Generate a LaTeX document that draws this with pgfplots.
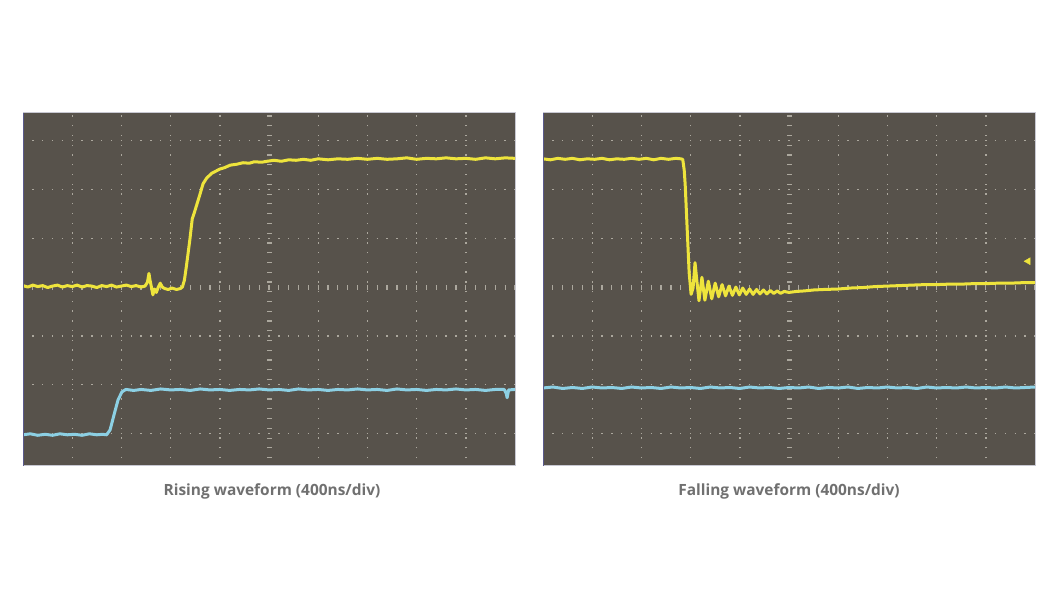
\documentclass[border=0pt]{standalone}
\usepackage{pgfplots}
\pgfplotsset{compat=1.18}
\usepackage{fontspec}
\setmainfont{Open Sans}
\definecolor{scopebg}{RGB}{87,82,75}
\definecolor{trY}{RGB}{238,228,60}
\definecolor{trC}{RGB}{140,208,228}
\definecolor{gridc}{RGB}{172,168,158}
\definecolor{capc}{RGB}{112,112,112}
\definecolor{edgeL}{RGB}{90,90,140}
\definecolor{edgeR}{RGB}{200,200,210}
\pgfplotsset{
  scope/.style={
    scale only axis, width=492bp, height=353bp,
    anchor=south west,
    xmin=-5, xmax=5, ymin=-3.67, ymax=3.57,
    axis background/.style={fill=scopebg},
    axis line style={draw=edgeR, line width=1bp},
    xtick={-4,-3,-2,-1,1,2,3,4}, ytick={-3,-2,-1,1,2,3},
    xticklabels={}, yticklabels={},
    major tick length=0pt,
    grid=major,
    major x grid style={draw=gridc, line width=1.4bp, dash pattern=on 1.4bp off 8.36bp, dash phase=2.0bp},
    major y grid style={draw=gridc, line width=1.4bp, dash pattern=on 1.4bp off 8.44bp, dash phase=0.7bp},
    extra x ticks={0}, extra y ticks={0},
    extra x tick style={grid=major, major x grid style={draw=gridc, line width=5bp, dash pattern=on 1.2bp off 8.56bp, dash phase=2.0bp}},
    extra y tick style={grid=major, major y grid style={draw=gridc, line width=5bp, dash pattern=on 1.2bp off 8.64bp, dash phase=0.6bp}},
    extra tick style={major tick length=0pt, xticklabels={}, yticklabels={}},
  },
  trace/.style={line width=3bp, line join=round, no marks},
}
\begin{document}
\begin{tikzpicture}
\useasboundingbox (0,0) rectangle (1063bp,604bp);
\fill[white] (0,0) rectangle (1063bp,604bp);

% ---------- Rising waveform ----------
\begin{axis}[scope, at={(23bp,138bp)}]
\addplot[trace, color=trY] coordinates {
(-5.00,0.03) (-4.90,0.00) (-4.80,0.04) (-4.70,0.01) (-4.60,0.03) (-4.50,-0.01) (-4.40,0.02)
(-4.30,0.04) (-4.20,0.00) (-4.10,0.03) (-4.00,0.01) (-3.90,0.04) (-3.80,0.00) (-3.70,0.03)
(-3.60,0.02) (-3.50,-0.01) (-3.40,0.03) (-3.30,0.01) (-3.20,0.04) (-3.10,0.00) (-3.00,0.02)
(-2.90,0.04) (-2.80,0.01) (-2.70,0.03) (-2.60,0.00) (-2.52,0.02) (-2.47,0.10) (-2.44,0.28)
(-2.42,0.15) (-2.39,0.00) (-2.36,-0.16) (-2.33,-0.04) (-2.29,-0.11) (-2.25,0.00) (-2.21,0.08)
(-2.17,0.00) (-2.12,-0.03) (-2.05,-0.05) (-1.97,-0.02) (-1.88,-0.05) (-1.80,-0.03) (-1.76,0.00)
(-1.72,0.14) (-1.68,0.42) (-1.61,0.96) (-1.56,1.40) (-1.52,1.52) (-1.48,1.65) (-1.41,1.88)
(-1.34,2.12) (-1.27,2.23) (-1.17,2.33) (-1.00,2.42) (-0.90,2.45) (-0.79,2.50) (-0.65,2.52)
(-0.53,2.55) (-0.40,2.54) (-0.30,2.57) (-0.15,2.56) (-0.04,2.58) (0.10,2.60) (0.25,2.58)
(0.40,2.61) (0.55,2.60) (0.70,2.62) (0.85,2.60) (1.00,2.63) (1.20,2.61) (1.40,2.63)
(1.60,2.62) (1.80,2.64) (2.00,2.62) (2.20,2.64) (2.40,2.62) (2.60,2.63) (2.80,2.65)
(3.00,2.62) (3.20,2.64) (3.40,2.63) (3.60,2.65) (3.80,2.63) (4.00,2.64) (4.20,2.62)
(4.40,2.65) (4.60,2.63) (4.80,2.65) (5.00,2.64)
};
\addplot[trace, color=trC] coordinates {
(-5.00,-3.03) (-4.85,-3.01) (-4.70,-3.04) (-4.55,-3.02) (-4.40,-3.04) (-4.25,-3.01) (-4.10,-3.03)
(-3.95,-3.02) (-3.80,-3.04) (-3.65,-3.01) (-3.50,-3.03) (-3.38,-3.02) (-3.30,-3.03) (-3.23,-2.93)
(-3.15,-2.62) (-3.07,-2.32) (-2.99,-2.15) (-2.91,-2.10) (-2.75,-2.12) (-2.60,-2.10) (-2.40,-2.12)
(-2.20,-2.09) (-2.00,-2.11) (-1.80,-2.10) (-1.60,-2.12) (-1.40,-2.09) (-1.20,-2.11) (-1.00,-2.10)
(-0.80,-2.12) (-0.60,-2.10) (-0.40,-2.11) (-0.20,-2.09) (0.00,-2.11) (0.20,-2.10) (0.40,-2.12)
(0.60,-2.09) (0.80,-2.11) (1.00,-2.10) (1.20,-2.12) (1.40,-2.10) (1.60,-2.11) (1.80,-2.09)
(2.00,-2.11) (2.20,-2.10) (2.40,-2.12) (2.60,-2.09) (2.80,-2.11) (3.00,-2.10) (3.20,-2.12)
(3.40,-2.10) (3.60,-2.11) (3.80,-2.09) (4.00,-2.11) (4.20,-2.10) (4.40,-2.12) (4.60,-2.10)
(4.78,-2.10) (4.82,-2.18) (4.84,-2.27) (4.87,-2.11) (5.00,-2.10)
};
\draw[edgeL, line width=2bp] (rel axis cs:0,0) -- (rel axis cs:0,1);
\end{axis}

% ---------- Falling waveform ----------
\begin{axis}[scope, at={(543bp,138bp)}]
\addplot[trace, color=trY] coordinates {
(-5.00,2.63) (-4.85,2.61) (-4.70,2.64) (-4.55,2.62) (-4.40,2.64) (-4.25,2.61) (-4.10,2.63)
(-3.95,2.62) (-3.80,2.64) (-3.65,2.61) (-3.50,2.63) (-3.35,2.62) (-3.20,2.64) (-3.05,2.62)
(-2.90,2.64) (-2.75,2.61) (-2.60,2.64) (-2.45,2.62) (-2.30,2.64) (-2.20,2.63) (-2.16,2.62)
(-2.13,2.40) (-2.11,2.10) (-2.07,1.20) (-2.03,0.30) (-1.99,-0.15) (-1.95,-0.02) (-1.91,0.50)
(-1.87,0.10) (-1.83,-0.28) (-1.77,0.20) (-1.71,-0.27) (-1.64,0.12) (-1.57,-0.24) (-1.50,0.08)
(-1.43,-0.20) (-1.36,0.05) (-1.29,-0.18) (-1.22,0.02) (-1.15,-0.17) (-1.08,0.00) (-1.01,-0.16)
(-0.94,-0.02) (-0.87,-0.15) (-0.80,-0.04) (-0.73,-0.15) (-0.66,-0.05) (-0.59,-0.14) (-0.52,-0.06)
(-0.45,-0.14) (-0.38,-0.07) (-0.31,-0.13) (-0.24,-0.08) (-0.17,-0.13) (-0.10,-0.09) (0.00,-0.11)
(0.15,-0.09) (0.30,-0.08) (0.50,-0.06) (0.70,-0.05) (1.00,-0.04) (1.25,-0.02) (1.50,-0.01)
(1.75,0.01) (2.00,0.02) (2.25,0.03) (2.50,0.04) (2.75,0.05) (3.00,0.05) (3.25,0.06)
(3.50,0.06) (3.75,0.07) (4.00,0.07) (4.25,0.08) (4.50,0.08) (4.75,0.09) (5.00,0.09)
};
\addplot[color=trY, only marks, mark=triangle*, mark size=4bp, mark options={rotate=90}] coordinates {(4.86,0.53)};
\addplot[trace, color=trC] coordinates {
(-5.00,-2.07) (-4.80,-2.05) (-4.60,-2.08) (-4.40,-2.06) (-4.20,-2.08) (-4.00,-2.05) (-3.80,-2.07)
(-3.60,-2.06) (-3.40,-2.08) (-3.20,-2.05) (-3.00,-2.07) (-2.80,-2.06) (-2.60,-2.08) (-2.40,-2.05)
(-2.20,-2.07) (-2.00,-2.06) (-1.80,-2.08) (-1.60,-2.05) (-1.40,-2.07) (-1.20,-2.06) (-1.00,-2.08)
(-0.80,-2.05) (-0.60,-2.07) (-0.40,-2.06) (-0.20,-2.08) (0.00,-2.06) (0.20,-2.07) (0.40,-2.05)
(0.60,-2.08) (0.80,-2.06) (1.00,-2.07) (1.20,-2.05) (1.40,-2.08) (1.60,-2.06) (1.80,-2.07)
(2.00,-2.05) (2.20,-2.07) (2.40,-2.06) (2.60,-2.08) (2.80,-2.05) (3.00,-2.07) (3.20,-2.06)
(3.40,-2.07) (3.60,-2.05) (3.80,-2.07) (4.00,-2.06) (4.20,-2.07) (4.40,-2.05) (4.60,-2.07)
(4.80,-2.06) (5.00,-2.05)
};
\draw[edgeL, line width=2bp] (rel axis cs:0,0) -- (rel axis cs:0,1);
\end{axis}

\node[text=capc, font=\bfseries\fontsize{15.5}{19}\selectfont] at (272bp,113bp) {Rising waveform (400ns/div)};
\node[text=capc, font=\bfseries\fontsize{15.5}{19}\selectfont] at (789bp,113bp) {Falling waveform (400ns/div)};
\end{tikzpicture}
\end{document}
